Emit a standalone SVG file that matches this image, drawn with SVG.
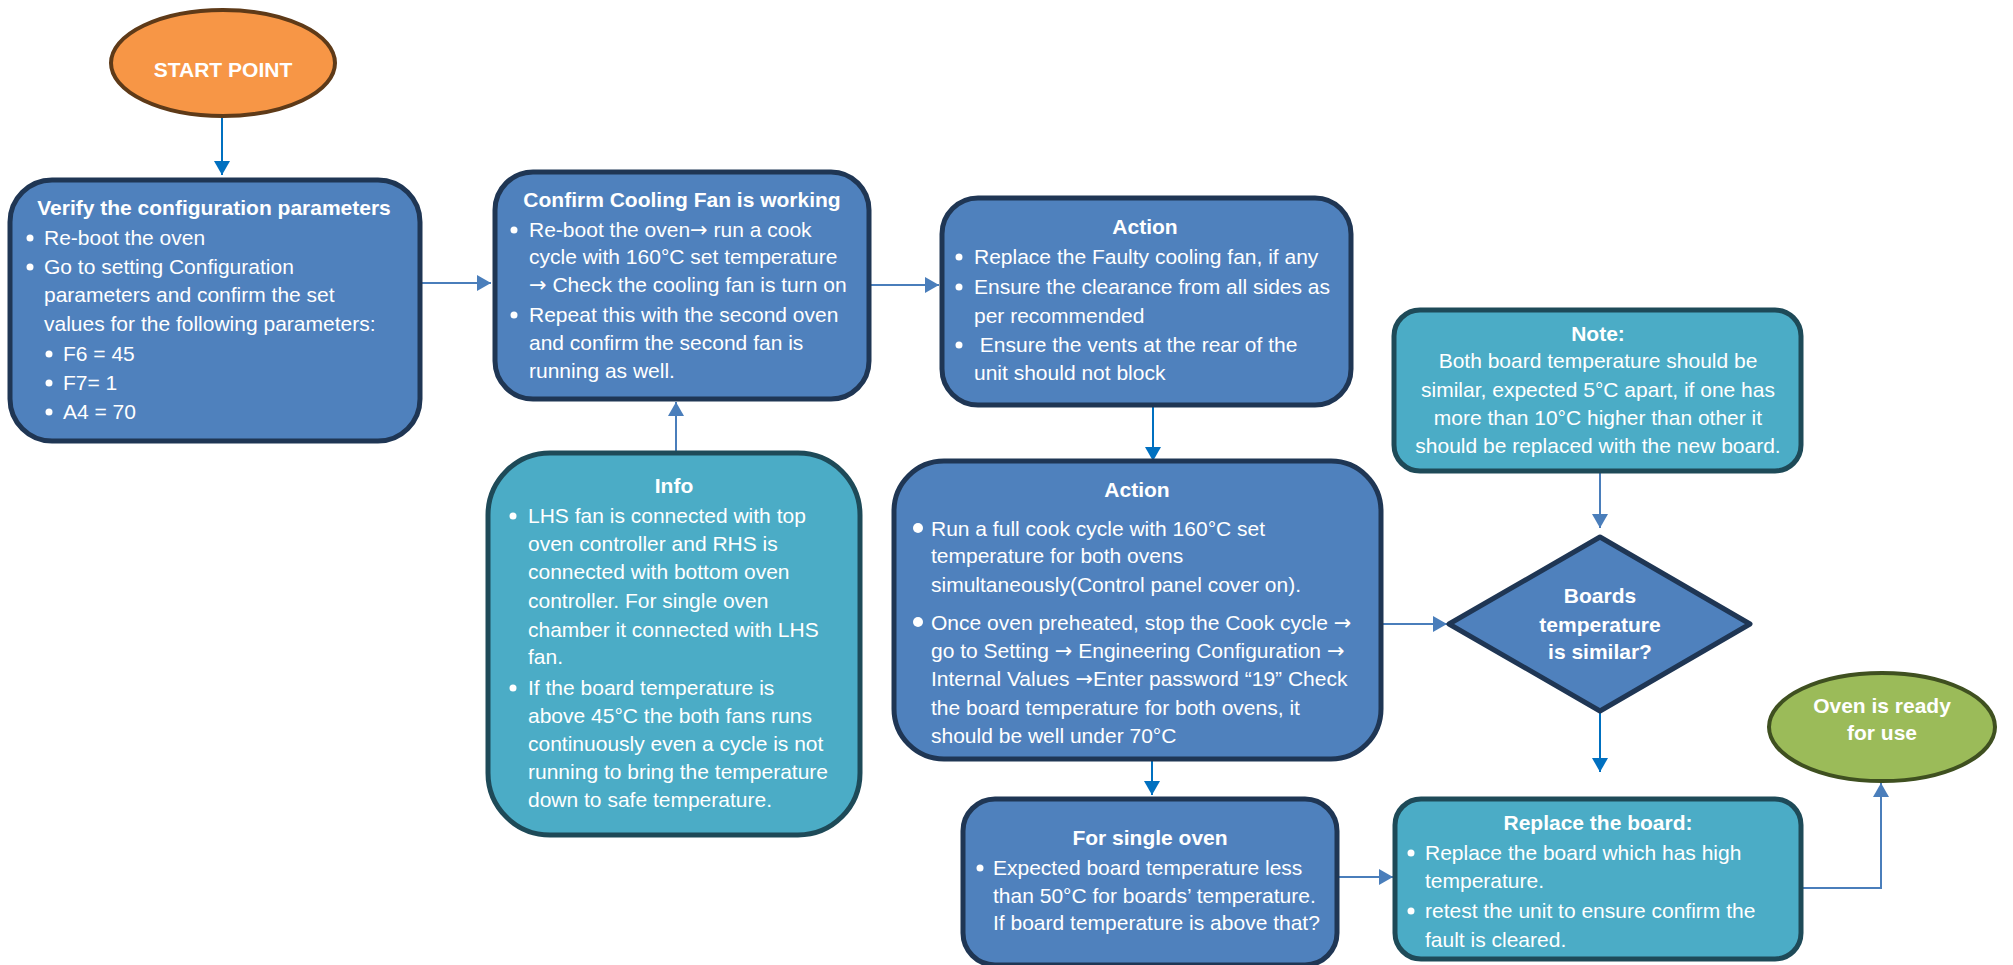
<svg xmlns="http://www.w3.org/2000/svg" width="2013" height="965" viewBox="0 0 2013 965">
<style>
.blue{fill:#4f81bd;stroke:#1f3654;stroke-width:5}
.teal{fill:#4bacc6;stroke:#1e4a58;stroke-width:5}
.t{font-family:"Liberation Sans",Arial,sans-serif;font-size:21px;fill:#ffffff}
.b{font-weight:bold}
.c{text-anchor:middle}
.ar{font-family:"DejaVu Sans",sans-serif}
.dot{fill:#ffffff}
.cl{stroke:#4a7ebb;stroke-width:2;fill:none}
.cb{stroke:#0070c0;stroke-width:2;fill:none}
</style>
<defs>
<marker id="al" markerUnits="userSpaceOnUse" markerWidth="16" markerHeight="16" refX="14" refY="8" orient="auto"><path d="M0,0 L14,8 L0,16 z" fill="#4a7ebb"/></marker>
<marker id="ab" markerUnits="userSpaceOnUse" markerWidth="16" markerHeight="16" refX="14" refY="8" orient="auto"><path d="M0,0 L14,8 L0,16 z" fill="#0070c0"/></marker>
</defs>
<rect width="2013" height="965" fill="#ffffff"/>

<g id="connectors">
<line class="cb" x1="222" y1="117" x2="222" y2="175" marker-end="url(#ab)"/>
<line class="cl" x1="422" y1="283" x2="491" y2="283" marker-end="url(#al)"/>
<line class="cl" x1="870" y1="285" x2="939" y2="285" marker-end="url(#al)"/>
<line class="cl" x1="676" y1="452" x2="676" y2="402" marker-end="url(#al)"/>
<line class="cb" x1="1153" y1="406" x2="1153" y2="461" marker-end="url(#ab)"/>
<line class="cl" x1="1382" y1="624" x2="1447" y2="624" marker-end="url(#al)"/>
<line class="cl" x1="1600" y1="472" x2="1600" y2="528" marker-end="url(#al)"/>
<line class="cb" x1="1600" y1="711" x2="1600" y2="772" marker-end="url(#ab)"/>
<line class="cb" x1="1152" y1="761" x2="1152" y2="795" marker-end="url(#ab)"/>
<line class="cl" x1="1338" y1="877" x2="1393" y2="877" marker-end="url(#al)"/>
<polyline class="cl" points="1802,888 1881,888 1881,783" marker-end="url(#al)"/>
</g>

<g id="start">
<ellipse cx="223" cy="63" rx="112" ry="53" fill="#f79646" stroke="#5e3a18" stroke-width="4"/>
<text class="t b c" x="223" y="77">START POINT</text>
</g>

<g id="verify">
<rect class="blue" x="10" y="180" width="410" height="261" rx="42"/>
<text class="t b c" x="214" y="215">Verify the configuration parameters</text>
<circle class="dot" cx="30" cy="238" r="3.5"/>
<text class="t" x="44" y="245">Re-boot the oven</text>
<circle class="dot" cx="30" cy="267" r="3.5"/>
<text class="t" x="44" y="274">Go to setting Configuration</text>
<text class="t" x="44" y="302">parameters and confirm the set</text>
<text class="t" x="44" y="331">values for the following parameters:</text>
<circle class="dot" cx="49" cy="354" r="3.5"/>
<text class="t" x="63" y="361">F6 = 45</text>
<circle class="dot" cx="49" cy="383" r="3.5"/>
<text class="t" x="63" y="390">F7= 1</text>
<circle class="dot" cx="49" cy="412" r="3.5"/>
<text class="t" x="63" y="419">A4 = 70</text>
</g>

<g id="confirm-fan">
<rect class="blue" x="495" y="172" width="374" height="227" rx="38"/>
<text class="t b c" x="682" y="207">Confirm Cooling Fan is working</text>
<circle class="dot" cx="514" cy="230" r="3.5"/>
<text class="t" x="529" y="237">Re-boot the oven<tspan class="ar">→</tspan> run a cook</text>
<text class="t" x="529" y="264">cycle with 160°C set temperature</text>
<text class="t" x="529" y="292"><tspan class="ar">→</tspan> Check the cooling fan is turn on</text>
<circle class="dot" cx="514" cy="315" r="3.5"/>
<text class="t" x="529" y="322">Repeat this with the second oven</text>
<text class="t" x="529" y="350">and confirm the second fan is</text>
<text class="t" x="529" y="378">running as well.</text>
</g>

<g id="info">
<rect class="teal" x="488" y="453" width="372" height="382" rx="62"/>
<text class="t b c" x="674" y="493">Info</text>
<circle class="dot" cx="513" cy="516" r="3.5"/>
<text class="t" x="528" y="523">LHS fan is connected with top</text>
<text class="t" x="528" y="551">oven controller and RHS is</text>
<text class="t" x="528" y="579">connected with bottom oven</text>
<text class="t" x="528" y="608">controller. For single oven</text>
<text class="t" x="528" y="637">chamber it connected with LHS</text>
<text class="t" x="528" y="664">fan.</text>
<circle class="dot" cx="513" cy="688" r="3.5"/>
<text class="t" x="528" y="695">If the board temperature is</text>
<text class="t" x="528" y="723">above 45°C the both fans runs</text>
<text class="t" x="528" y="751">continuously even a cycle is not</text>
<text class="t" x="528" y="779">running to bring the temperature</text>
<text class="t" x="528" y="807">down to safe temperature.</text>
</g>

<g id="action1">
<rect class="blue" x="942" y="198" width="409" height="207" rx="36"/>
<text class="t b c" x="1145" y="234">Action</text>
<circle class="dot" cx="959" cy="257" r="3.5"/>
<text class="t" x="974" y="264">Replace the Faulty cooling fan, if any</text>
<circle class="dot" cx="959" cy="287" r="3.5"/>
<text class="t" x="974" y="294">Ensure the clearance from all sides as</text>
<text class="t" x="974" y="323">per recommended</text>
<circle class="dot" cx="959" cy="345" r="3.5"/>
<text class="t" x="974" y="352" xml:space="preserve"> Ensure the vents at the rear of the</text>
<text class="t" x="974" y="380">unit should not block</text>
</g>

<g id="action2">
<rect class="blue" x="894" y="461" width="487" height="298" rx="50"/>
<text class="t b c" x="1137" y="497">Action</text>
<circle class="dot" cx="918" cy="528" r="5"/>
<text class="t" x="931" y="536">Run a full cook cycle with 160°C set</text>
<text class="t" x="931" y="563">temperature for both ovens</text>
<text class="t" x="931" y="592">simultaneously(Control panel cover on).</text>
<circle class="dot" cx="918" cy="622" r="5"/>
<text class="t" x="931" y="630">Once oven preheated, stop the Cook cycle <tspan class="ar">→</tspan></text>
<text class="t" x="931" y="658">go to Setting <tspan class="ar">→</tspan> Engineering Configuration <tspan class="ar">→</tspan></text>
<text class="t" x="931" y="686">Internal Values <tspan class="ar">→</tspan>Enter password “19” Check</text>
<text class="t" x="931" y="715">the board temperature for both ovens, it</text>
<text class="t" x="931" y="743">should be well under 70°C</text>
</g>

<g id="note">
<rect class="teal" x="1394" y="310" width="407" height="161" rx="26"/>
<text class="t b c" x="1598" y="341">Note:</text>
<text class="t c" x="1598" y="368">Both board temperature should be</text>
<text class="t c" x="1598" y="397">similar, expected 5°C apart, if one has</text>
<text class="t c" x="1598" y="425">more than 10°C higher than other it</text>
<text class="t c" x="1598" y="453">should be replaced with the new board.</text>
</g>

<g id="decision">
<polygon points="1600,537 1750,624 1600,711 1449,624" fill="#4f81bd" stroke="#1f3654" stroke-width="5" stroke-linejoin="round"/>
<text class="t b c" x="1600" y="603">Boards</text>
<text class="t b c" x="1600" y="632">temperature</text>
<text class="t b c" x="1600" y="659">is similar?</text>
</g>

<g id="ready">
<ellipse cx="1882" cy="727" rx="113" ry="54" fill="#9bbb59" stroke="#3f5020" stroke-width="4"/>
<text class="t b c" x="1882" y="713">Oven is ready</text>
<text class="t b c" x="1882" y="740">for use</text>
</g>

<g id="single-oven">
<rect class="blue" x="963" y="799" width="374" height="166" rx="32"/>
<text class="t b c" x="1150" y="845">For single oven</text>
<circle class="dot" cx="980" cy="868" r="3.5"/>
<text class="t" x="993" y="875">Expected board temperature less</text>
<text class="t" x="993" y="903">than 50°C for boards’ temperature.</text>
<text class="t" x="993" y="930">If board temperature is above that?</text>
</g>

<g id="replace">
<rect class="teal" x="1395" y="799" width="406" height="160" rx="26"/>
<text class="t b c" x="1598" y="830">Replace the board:</text>
<circle class="dot" cx="1411" cy="853" r="3.5"/>
<text class="t" x="1425" y="860">Replace the board which has high</text>
<text class="t" x="1425" y="888">temperature.</text>
<circle class="dot" cx="1411" cy="911" r="3.5"/>
<text class="t" x="1425" y="918">retest the unit to ensure confirm the</text>
<text class="t" x="1425" y="947">fault is cleared.</text>
</g>
</svg>
